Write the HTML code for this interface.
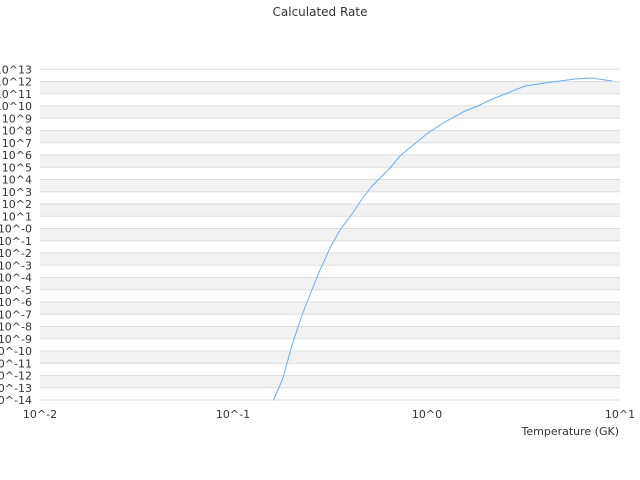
<!DOCTYPE html><html><head><style>body{margin:0;background:#fff;}svg{display:block;font-family:"DejaVu Sans","Liberation Sans",sans-serif;}</style></head><body>
<svg width="640" height="480" xmlns="http://www.w3.org/2000/svg">
<g fill="#f2f2f2">
<rect x="40" y="81.55" width="580" height="12.25"/>
<rect x="40" y="106.04" width="580" height="12.25"/>
<rect x="40" y="130.54" width="580" height="12.25"/>
<rect x="40" y="155.04" width="580" height="12.25"/>
<rect x="40" y="179.53" width="580" height="12.25"/>
<rect x="40" y="204.03" width="580" height="12.25"/>
<rect x="40" y="228.52" width="580" height="12.25"/>
<rect x="40" y="253.02" width="580" height="12.25"/>
<rect x="40" y="277.52" width="580" height="12.25"/>
<rect x="40" y="302.01" width="580" height="12.25"/>
<rect x="40" y="326.51" width="580" height="12.25"/>
<rect x="40" y="351.0" width="580" height="12.25"/>
<rect x="40" y="375.5" width="580" height="12.25"/>
</g>
<g stroke="#dddddd" stroke-width="1">
<line x1="40" x2="620" y1="69.3" y2="69.3"/><line x1="40" x2="620" y1="81.55" y2="81.55"/><line x1="40" x2="620" y1="93.8" y2="93.8"/><line x1="40" x2="620" y1="106.04" y2="106.04"/><line x1="40" x2="620" y1="118.29" y2="118.29"/><line x1="40" x2="620" y1="130.54" y2="130.54"/><line x1="40" x2="620" y1="142.79" y2="142.79"/><line x1="40" x2="620" y1="155.04" y2="155.04"/><line x1="40" x2="620" y1="167.28" y2="167.28"/><line x1="40" x2="620" y1="179.53" y2="179.53"/><line x1="40" x2="620" y1="191.78" y2="191.78"/><line x1="40" x2="620" y1="204.03" y2="204.03"/><line x1="40" x2="620" y1="216.28" y2="216.28"/><line x1="40" x2="620" y1="228.52" y2="228.52"/><line x1="40" x2="620" y1="240.77" y2="240.77"/><line x1="40" x2="620" y1="253.02" y2="253.02"/><line x1="40" x2="620" y1="265.27" y2="265.27"/><line x1="40" x2="620" y1="277.52" y2="277.52"/><line x1="40" x2="620" y1="289.76" y2="289.76"/><line x1="40" x2="620" y1="302.01" y2="302.01"/><line x1="40" x2="620" y1="314.26" y2="314.26"/><line x1="40" x2="620" y1="326.51" y2="326.51"/><line x1="40" x2="620" y1="338.76" y2="338.76"/><line x1="40" x2="620" y1="351.0" y2="351.0"/><line x1="40" x2="620" y1="363.25" y2="363.25"/><line x1="40" x2="620" y1="375.5" y2="375.5"/><line x1="40" x2="620" y1="387.75" y2="387.75"/><line x1="40" x2="620" y1="400" y2="400"/>
</g>
<g font-size="11" fill="#333" text-anchor="end">
<text x="32" y="73.3">10^13</text><text x="32" y="85.55">10^12</text><text x="32" y="97.8">10^11</text><text x="32" y="110.04">10^10</text><text x="32" y="122.29">10^9</text><text x="32" y="134.54">10^8</text><text x="32" y="146.79">10^7</text><text x="32" y="159.04">10^6</text><text x="32" y="171.28">10^5</text><text x="32" y="183.53">10^4</text><text x="32" y="195.78">10^3</text><text x="32" y="208.03">10^2</text><text x="32" y="220.28">10^1</text><text x="32" y="232.52">10^-0</text><text x="32" y="244.77">10^-1</text><text x="32" y="257.02">10^-2</text><text x="32" y="269.27">10^-3</text><text x="32" y="281.52">10^-4</text><text x="32" y="293.76">10^-5</text><text x="32" y="306.01">10^-6</text><text x="32" y="318.26">10^-7</text><text x="32" y="330.51">10^-8</text><text x="32" y="342.76">10^-9</text><text x="32" y="355.0">10^-10</text><text x="32" y="367.25">10^-11</text><text x="32" y="379.5">10^-12</text><text x="32" y="391.75">10^-13</text><text x="32" y="404">10^-14</text>
</g>
<text x="320" y="16" font-size="12" text-anchor="middle" fill="#333">Calculated Rate</text>
<g font-size="11" fill="#333" text-anchor="middle">
<text x="40" y="418">10^-2</text><text x="233" y="418">10^-1</text><text x="427" y="418">10^0</text><text x="620" y="418">10^1</text>
</g>
<text x="619" y="435" font-size="11" text-anchor="end" fill="#333">Temperature (GK)</text>
<polyline fill="none" stroke="#6aaef0" stroke-width="1" points="273.5,400 283,378 292,345 301,318 311,292 320,270 330,248 340,230 352,214 362,199 372,186 380,178 390,168 400,156 412,146 428,133 440,125 452,118 465,111 478,106 490,100 505,94 515,90 525,86 545,83 560,81 575,79 592,78 612,81"/>
</svg></body></html>
